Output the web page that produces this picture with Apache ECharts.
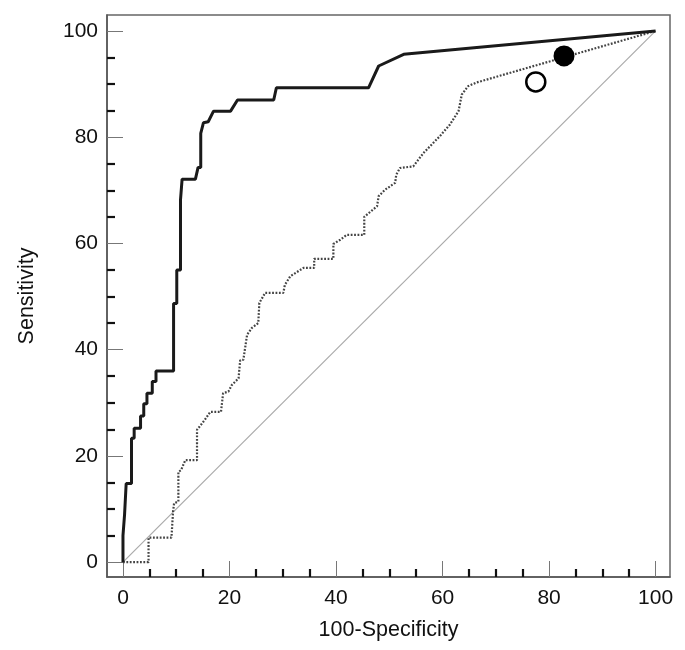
<!DOCTYPE html>
<html><head><meta charset="utf-8">
<script src="https://cdn.jsdelivr.net/npm/echarts@6/dist/echarts.min.js"></script>
<style>html,body{margin:0;padding:0;background:#fff}#c{width:685px;height:650px}</style>
</head><body><div id="c"></div>
<script>
const majorTicks = [0, 20, 40, 60, 80, 100];
const minorTicks = [5, 10, 15, 25, 30, 35, 45, 50, 55, 65, 70, 75, 85, 90, 95];
const xTitle = '100-Specificity';
const yTitle = 'Sensitivity';

// Solid ROC curve (100-Specificity, Sensitivity)
const solidFpr = [0, 0, 0.3, 0.6, 1.6, 1.6, 2.1, 2.1, 3.3, 3.3, 3.9, 3.9, 4.5, 4.5, 5.5, 5.5, 6.2, 6.2, 9.5, 9.5, 10.1, 10.1, 10.8, 10.8, 11.1, 11.1, 13.6, 14.1, 14.6, 14.6, 15.1, 16.0, 17.0, 20.2, 21.5, 28.3, 28.8, 46.1, 48.0, 52.7, 100];
const solidTpr = [0, 5, 9, 14.8, 14.8, 23.3, 23.3, 25.2, 25.2, 27.5, 27.5, 29.8, 29.8, 31.8, 31.8, 34.0, 34.0, 36.0, 36.0, 48.7, 48.7, 55.0, 55.0, 68.2, 68.2, 72.1, 72.1, 74.3, 74.3, 80.7, 82.7, 82.9, 84.9, 84.9, 87.0, 87.0, 89.3, 89.3, 93.4, 95.6, 100];

// Dotted ROC curve
const dottedFpr = [0, 4.8, 4.8, 9.1, 9.4, 9.6, 10.4, 10.4, 10.9, 11.7, 13.9, 13.9, 15.3, 16.4, 18.4, 18.8, 19.8, 20.4, 21.7, 22.0, 22.6, 23.3, 24.2, 25.4, 25.6, 26.7, 30.1, 30.4, 31.4, 33.9, 35.9, 35.9, 39.5, 39.5, 40.8, 42.0, 45.3, 45.3, 47.7, 48.0, 49.2, 51.1, 51.3, 52.0, 54.5, 56.4, 59.5, 61.4, 63.0, 63.6, 64.8, 66.4, 100];
const dottedTpr = [0, 0, 4.6, 4.6, 9.5, 11.1, 11.4, 17.0, 17.3, 19.2, 19.2, 24.9, 26.7, 28.3, 28.3, 31.8, 32.1, 33.3, 34.6, 38.0, 38.1, 42.8, 44.1, 45.0, 48.8, 50.7, 50.7, 52.2, 53.8, 55.4, 55.4, 57.1, 57.1, 59.9, 60.7, 61.6, 61.6, 65.0, 67.0, 68.9, 70.1, 71.4, 72.9, 74.2, 74.5, 77.0, 80.2, 82.4, 84.9, 88.0, 89.6, 90.3, 100];

const diagFpr = [0, 100];
const diagTpr = [0, 100];

const filledPoint = [82.8, 95.3];
const openPoint = [77.5, 90.4];

function zip(a, b) { return a.map((v, i) => [v, b[i]]); }

const FONT = "'Liberation Sans', Arial, sans-serif";

function mainAxis(isX) {
  return {
    type: 'value',
    position: isX ? 'bottom' : 'left',
    min: isX ? -3 : -2.8,
    max: isX ? 102.7 : 103,
    name: isX ? xTitle : yTitle,
    nameLocation: 'middle',
    nameGap: isX ? 42 : 69,
    nameTextStyle: { fontFamily: FONT, fontSize: 21.5, color: '#111' },
    axisLine: { show: true, onZero: false, lineStyle: { color: '#555', width: 1.5 } },
    axisTick: { show: true, inside: true, length: 16, customValues: majorTicks, lineStyle: { color: '#777', width: 1 } },
    axisLabel: { show: true, customValues: majorTicks, margin: isX ? 11 : 9, fontFamily: FONT, fontSize: 21, color: '#111' },
    splitLine: { show: false },
    minorTick: { show: false }
  };
}
function minorAxis(isX) {
  return {
    type: 'value',
    position: isX ? 'bottom' : 'left',
    min: isX ? -3 : -2.8,
    max: isX ? 102.7 : 103,
    axisLine: { show: false, onZero: false },
    axisTick: { show: true, inside: true, length: 8, customValues: minorTicks, lineStyle: { color: '#111', width: 2.2 } },
    axisLabel: { show: false },
    splitLine: { show: false }
  };
}

const chart = echarts.init(document.getElementById('c'), null, { renderer: 'canvas' });
chart.setOption({
  animation: false,
  backgroundColor: '#fff',
  grid: { left: 107, right: 15, top: 15, bottom: 73, show: true, borderColor: '#666', borderWidth: 1.5, backgroundColor: 'transparent' },
  xAxis: [mainAxis(true), minorAxis(true)],
  yAxis: [mainAxis(false), minorAxis(false)],
  series: [
    { type: 'line', data: zip(diagFpr, diagTpr), symbol: 'none', lineStyle: { color: '#aaa', width: 1.2 }, z: 2 },
    { type: 'line', data: zip(dottedFpr, dottedTpr), symbol: 'none', lineStyle: { color: '#444', width: 2.2, type: [1.8, 1.6] }, z: 3 },
    { type: 'line', data: zip(solidFpr, solidTpr), symbol: 'none', lineStyle: { color: '#1a1a1a', width: 3 }, z: 4 },
    { type: 'scatter', data: [filledPoint], symbol: 'circle', symbolSize: 21, itemStyle: { color: '#000', opacity: 1 }, z: 5 },
    { type: 'scatter', data: [openPoint], symbol: 'circle', symbolSize: 19, itemStyle: { color: '#fff', borderColor: '#000', borderWidth: 2.5, opacity: 1 }, z: 5 }
  ]
});
</script>
</body></html>
